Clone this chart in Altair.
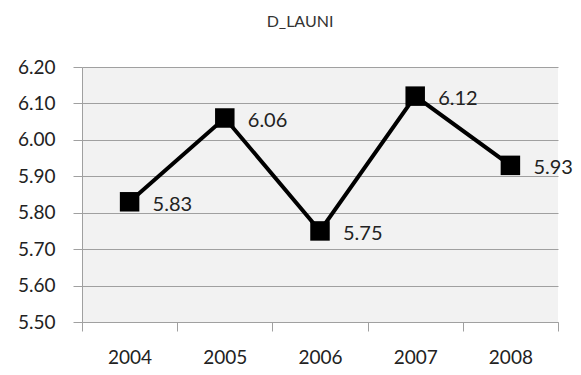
import altair as alt
import pandas as pd

years = ["2004", "2005", "2006", "2007", "2008"]
values = [5.83, 6.06, 5.75, 6.12, 5.93]
labels = ["5.83", "6.06", "5.75", "6.12", "5.93"]

df = pd.DataFrame({"year": years, "value": values, "label": labels})

FONT = "Lato"

x = alt.X("year:O", scale=alt.Scale(paddingInner=0, paddingOuter=0),
          axis=alt.Axis(title=None, labelAngle=0, labelFontSize=19, labelColor="#222",
                        labelFont=FONT, tickBand="extent", tickSize=9, tickColor="#a0a0a0",
                        domainColor="#a0a0a0", labelPadding=17, grid=False))
y = alt.Y("value:Q", scale=alt.Scale(domain=[5.5, 6.2], nice=False, zero=False),
          axis=alt.Axis(title=None, values=[5.5, 5.6, 5.7, 5.8, 5.9, 6.0, 6.1, 6.2],
                        format=".2f", labelFontSize=19, labelColor="#222", labelFont=FONT,
                        tickSize=9, tickColor="#a0a0a0", domainColor="#a0a0a0",
                        gridColor="#a0a0a0", gridWidth=1, labelPadding=18))

base = alt.Chart(df)
line = base.mark_line(color="black", strokeWidth=4).encode(x=x, y=y)
pts = base.mark_point(shape="square", filled=True, size=380, color="black", opacity=1).encode(x=x, y=y)
txt = base.mark_text(align="left", dx=23, dy=3, fontSize=20, font=FONT, color="#222").encode(
    x=x, y=y, text="label:N")

chart = (line + pts + txt).properties(
    width=476, height=255,
    title=alt.TitleParams("D_LAUNI", fontSize=16, font=FONT, fontWeight="normal",
                          color="#333", anchor="middle", dx=-20, offset=28),
    autosize=alt.AutoSizeParams(type="none"),
    padding={"left": 74, "top": 59, "right": 15, "bottom": 50},
).configure_view(fill="#f2f2f2", stroke=None)

chart.save("out.html", embed_options={"renderer": "svg", "actions": False})
